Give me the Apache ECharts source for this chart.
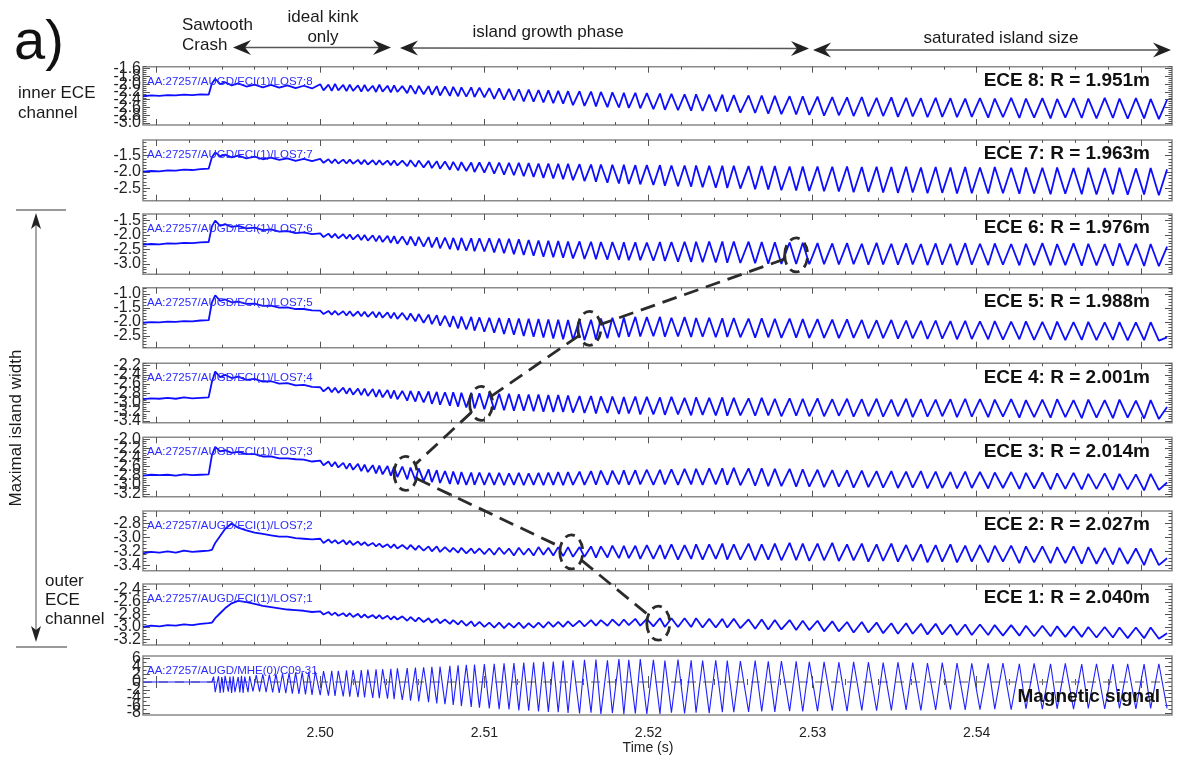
<!DOCTYPE html>
<html><head><meta charset="utf-8">
<script src="https://cdn.jsdelivr.net/npm/echarts@6/dist/echarts.min.js"></script>
<style>html,body{margin:0;padding:0;background:#fff}#c{width:1178px;height:760px}</style>
</head><body><div id="c"></div>
<script>
// ---------------- DATA ----------------
const tEarly = [2.4892,2.4897,2.4902,2.4907,2.4912,2.4917,2.4922,2.4927,2.4932,2.4934,2.4936,2.4939,2.4942,2.4946,2.4950,2.4955,2.4960,2.4965,2.4970,2.4975,2.4980,2.4985,2.4990,2.4995];
const tOsc = [
 2.5000,2.5002,2.5005,2.5007,2.5009,2.5011,2.5014,2.5016,2.5018,2.5020,2.5023,2.5025,2.5027,2.5029,2.5032,2.5034,2.5036,2.5038,2.5041,2.5043,2.5045,2.5047,2.5050,
 2.5053,2.5055,2.5058,2.5060,2.5063,2.5066,2.5068,2.5071,2.5073,2.5076,2.5079,2.5081,2.5084,2.5086,2.5089,2.5092,2.5094,2.5097,2.5100,
 2.5103,2.5106,2.5109,2.5112,2.5115,2.5118,2.5121,2.5124,2.5127,2.5130,2.5133,2.5136,2.5139,2.5142,2.5145,2.5148,2.5151,
 2.5154,2.5158,2.5161,2.5165,2.5168,2.5171,2.5175,2.5178,2.5182,2.5185,2.5188,2.5192,2.5195,2.5199,
 2.5203,2.5207,2.5210,2.5214,2.5218,2.5222,2.5226,2.5229,2.5233,2.5237,2.5241,2.5245,2.5248,
 2.5252,2.5256,2.5261,2.5265,2.5269,2.5273,2.5277,2.5281,2.5286,2.5290,2.5294,2.5298,
 2.5303,2.5307,2.5312,2.5316,2.5321,2.5325,2.5330,2.5334,2.5339,2.5343,2.5348,2.5352,2.5357,2.5361,2.5366,2.5370,2.5375,2.5379,2.5384,2.5388,2.5393,2.5397,
 2.5402,2.5407,2.5411,2.5416,2.5421,2.5426,2.5430,2.5435,2.5440,2.5445,2.5449,2.5454,2.5459,2.5464,2.5468,2.5473,2.5478,2.5483,2.5487,2.5492,2.5497,2.5502,2.5506,2.5511,2.5516];

const ece8Early = [-2.31,-2.29,-2.30,-2.28,-2.29,-2.27,-2.28,-2.26,-2.27,-1.98,-1.86,-2.00,-1.95,-2.03,-1.98,-2.06,-2.01,-2.08,-2.02,-2.09,-2.03,-2.10,-2.04,-2.11];
const ece8 = [
 -2.00,-2.16,-2.01,-2.17,-1.99,-2.16,-2.02,-2.18,-2.01,-2.17,-2.03,-2.19,-2.02,-2.18,-2.04,-2.20,-2.01,-2.19,-2.04,-2.21,-2.03,-2.20,-2.05,
 -2.23,-2.03,-2.25,-2.04,-2.26,-2.05,-2.27,-2.05,-2.29,-2.06,-2.30,-2.07,-2.31,-2.08,-2.32,-2.08,-2.33,-2.09,-2.34,
 -2.10,-2.38,-2.11,-2.40,-2.12,-2.42,-2.13,-2.44,-2.14,-2.45,-2.15,-2.47,-2.16,-2.49,-2.17,-2.50,-2.18,
 -2.54,-2.18,-2.56,-2.19,-2.57,-2.20,-2.59,-2.21,-2.60,-2.22,-2.61,-2.22,-2.62,-2.23,
 -2.64,-2.24,-2.66,-2.25,-2.67,-2.26,-2.68,-2.26,-2.69,-2.27,-2.70,-2.27,-2.71,
 -2.28,-2.73,-2.29,-2.74,-2.29,-2.76,-2.30,-2.77,-2.31,-2.78,-2.31,-2.79,
 -2.32,-2.81,-2.33,-2.80,-2.34,-2.82,-2.33,-2.83,-2.35,-2.82,-2.34,-2.84,-2.35,-2.83,-2.36,-2.85,-2.35,-2.84,-2.36,-2.85,-2.37,-2.84,
 -2.36,-2.86,-2.37,-2.85,-2.35,-2.87,-2.37,-2.86,-2.36,-2.88,-2.38,-2.86,-2.36,-2.87,-2.37,-2.88,-2.35,-2.87,-2.37,-2.89,-2.36,-2.88,-2.38,-2.90,-2.40];

const ece7Early = [-1.99,-1.97,-1.98,-1.95,-1.96,-1.93,-1.94,-1.91,-1.90,-1.55,-1.40,-1.52,-1.47,-1.55,-1.50,-1.58,-1.53,-1.61,-1.56,-1.63,-1.58,-1.66,-1.60,-1.67];
const ece7 = [
 -1.60,-1.72,-1.61,-1.73,-1.61,-1.74,-1.62,-1.74,-1.62,-1.75,-1.63,-1.76,-1.63,-1.77,-1.64,-1.78,-1.64,-1.78,-1.65,-1.79,-1.65,-1.80,-1.65,
 -1.82,-1.64,-1.84,-1.65,-1.86,-1.66,-1.88,-1.67,-1.90,-1.68,-1.93,-1.69,-1.95,-1.70,-1.97,-1.71,-2.00,-1.71,-2.02,
 -1.70,-2.05,-1.71,-2.08,-1.72,-2.10,-1.72,-2.13,-1.73,-2.15,-1.74,-2.18,-1.74,-2.20,-1.75,-2.22,-1.75,
 -2.25,-1.76,-2.28,-1.77,-2.30,-1.77,-2.33,-1.78,-2.35,-1.78,-2.37,-1.79,-2.38,-1.79,
 -2.40,-1.79,-2.42,-1.80,-2.44,-1.80,-2.45,-1.80,-2.47,-1.81,-2.48,-1.81,-2.49,
 -1.81,-2.51,-1.82,-2.53,-1.82,-2.54,-1.82,-2.56,-1.83,-2.57,-1.83,-2.58,
 -1.83,-2.59,-1.84,-2.60,-1.83,-2.62,-1.85,-2.61,-1.84,-2.63,-1.85,-2.64,-1.84,-2.63,-1.86,-2.65,-1.85,-2.64,-1.86,-2.66,-1.85,-2.65,
 -1.86,-2.66,-1.85,-2.65,-1.87,-2.67,-1.86,-2.66,-1.87,-2.68,-1.86,-2.67,-1.88,-2.68,-1.87,-2.69,-1.88,-2.68,-1.87,-2.70,-1.89,-2.69,-1.88,-2.71,-1.92];

const ece6Early = [-2.33,-2.31,-2.32,-2.29,-2.30,-2.27,-2.28,-2.25,-2.24,-1.70,-1.50,-1.68,-1.62,-1.72,-1.68,-1.77,-1.74,-1.83,-1.80,-1.88,-1.86,-1.93,-1.91,-1.97];
const ece6 = [
 -1.94,-2.07,-1.95,-2.09,-1.96,-2.11,-1.97,-2.13,-1.98,-2.15,-1.99,-2.17,-2.00,-2.19,-2.01,-2.22,-2.02,-2.24,-2.03,-2.27,-2.04,-2.30,-2.05,
 -2.34,-2.05,-2.37,-2.06,-2.40,-2.07,-2.43,-2.08,-2.46,-2.09,-2.49,-2.10,-2.52,-2.10,-2.54,-2.11,-2.56,-2.11,-2.57,
 -2.11,-2.60,-2.12,-2.63,-2.13,-2.66,-2.15,-2.69,-2.17,-2.72,-2.19,-2.75,-2.20,-2.77,-2.21,-2.79,-2.22,
 -2.81,-2.22,-2.83,-2.23,-2.84,-2.24,-2.85,-2.24,-2.86,-2.25,-2.87,-2.25,-2.87,-2.26,
 -2.89,-2.24,-2.90,-2.24,-2.92,-2.23,-2.93,-2.23,-2.94,-2.22,-2.95,-2.22,-2.96,
 -2.22,-2.97,-2.23,-2.98,-2.24,-2.99,-2.25,-3.00,-2.26,-3.00,-2.27,-3.01,
 -2.28,-3.01,-2.29,-3.02,-2.28,-3.01,-2.30,-3.03,-2.27,-3.02,-2.30,-3.03,-2.29,-3.02,-2.31,-3.04,-2.29,-3.03,-2.30,-3.04,-2.28,-3.03,
 -2.30,-3.04,-2.29,-3.03,-2.31,-3.05,-2.30,-3.04,-2.28,-3.05,-2.31,-3.04,-2.29,-3.06,-2.30,-3.05,-2.31,-3.06,-2.29,-3.05,-2.30,-3.07,-2.31,-3.08,-2.40];

const ece5Early = [-2.03,-2.01,-2.02,-1.99,-2.00,-1.97,-1.98,-1.95,-1.94,-1.30,-1.05,-1.25,-1.20,-1.30,-1.28,-1.36,-1.35,-1.43,-1.42,-1.49,-1.48,-1.54,-1.54,-1.59];
const ece5 = [
 -1.60,-1.72,-1.61,-1.74,-1.61,-1.75,-1.62,-1.77,-1.62,-1.79,-1.63,-1.80,-1.64,-1.82,-1.64,-1.84,-1.65,-1.85,-1.66,-1.87,-1.67,-1.89,-1.68,
 -1.93,-1.70,-1.98,-1.72,-2.03,-1.74,-2.08,-1.76,-2.13,-1.78,-2.18,-1.79,-2.23,-1.81,-2.27,-1.82,-2.31,-1.84,-2.35,
 -1.85,-2.39,-1.86,-2.43,-1.87,-2.46,-1.88,-2.50,-1.89,-2.53,-1.90,-2.56,-1.91,-2.59,-1.92,-2.62,-1.93,
 -2.64,-1.93,-2.65,-1.92,-2.63,-1.88,-2.58,-1.85,-2.55,-1.84,-2.53,-1.82,-2.52,-1.83,
 -2.51,-1.82,-2.53,-1.85,-2.52,-1.83,-2.54,-1.86,-2.53,-1.85,-2.55,-1.87,-2.54,
 -1.86,-2.55,-1.88,-2.56,-1.87,-2.55,-1.89,-2.57,-1.88,-2.56,-1.90,-2.57,
 -1.90,-2.57,-1.92,-2.58,-1.91,-2.57,-1.93,-2.59,-1.94,-2.58,-1.93,-2.60,-1.95,-2.59,-1.96,-2.61,-1.95,-2.60,-1.97,-2.62,-1.96,-2.61,
 -1.98,-2.62,-1.97,-2.63,-1.99,-2.62,-1.98,-2.64,-2.00,-2.63,-1.99,-2.65,-2.01,-2.64,-2.00,-2.65,-2.02,-2.64,-2.01,-2.66,-2.02,-2.65,-2.01,-2.67,-2.55];

const ece4Early = [-2.93,-2.91,-2.92,-2.90,-2.92,-2.89,-2.91,-2.90,-2.89,-2.55,-2.33,-2.45,-2.40,-2.47,-2.44,-2.51,-2.49,-2.55,-2.54,-2.59,-2.58,-2.63,-2.62,-2.66];
const ece4 = [
 -2.67,-2.76,-2.67,-2.78,-2.68,-2.79,-2.68,-2.81,-2.69,-2.83,-2.70,-2.84,-2.70,-2.86,-2.71,-2.88,-2.72,-2.89,-2.73,-2.91,-2.74,-2.93,-2.75,
 -2.96,-2.75,-2.98,-2.76,-3.00,-2.76,-3.03,-2.77,-3.05,-2.78,-3.07,-2.78,-3.09,-2.79,-3.11,-2.79,-3.13,-2.80,-3.15,
 -2.80,-3.16,-2.81,-3.17,-2.81,-3.18,-2.82,-3.18,-2.83,-3.19,-2.83,-3.20,-2.84,-3.21,-2.84,-3.21,-2.85,
 -3.22,-2.86,-3.23,-2.86,-3.24,-2.87,-3.23,-2.87,-3.25,-2.88,-3.24,-2.87,-3.26,-2.88,
 -3.26,-2.89,-3.27,-2.88,-3.26,-2.90,-3.28,-2.89,-3.27,-2.90,-3.28,-2.89,-3.29,
 -2.90,-3.28,-2.91,-3.29,-2.90,-3.28,-2.92,-3.30,-2.91,-3.29,-2.92,-3.30,
 -2.91,-3.30,-2.93,-3.29,-2.92,-3.31,-2.93,-3.30,-2.92,-3.31,-2.94,-3.30,-2.92,-3.32,-2.93,-3.31,-2.94,-3.30,-2.93,-3.32,-2.92,-3.31,
 -2.93,-3.32,-2.94,-3.31,-2.93,-3.33,-2.95,-3.32,-2.94,-3.33,-2.93,-3.32,-2.95,-3.34,-2.94,-3.33,-2.95,-3.34,-2.94,-3.33,-2.96,-3.35,-2.95,-3.36,-3.10];

const ece3Early = [-2.80,-2.78,-2.79,-2.78,-2.80,-2.77,-2.79,-2.78,-2.77,-2.35,-2.17,-2.27,-2.24,-2.30,-2.28,-2.33,-2.33,-2.38,-2.38,-2.42,-2.42,-2.44,-2.45,-2.49];
const ece3 = [
 -2.47,-2.57,-2.49,-2.60,-2.50,-2.62,-2.52,-2.65,-2.53,-2.67,-2.54,-2.70,-2.56,-2.72,-2.57,-2.75,-2.58,-2.77,-2.59,-2.80,-2.60,-2.83,-2.60,
 -2.88,-2.62,-2.90,-2.64,-2.92,-2.66,-2.94,-2.68,-2.96,-2.70,-2.98,-2.71,-2.99,-2.72,-3.00,-2.73,-3.00,-2.73,-3.00,
 -2.74,-3.00,-2.74,-3.01,-2.75,-3.00,-2.74,-3.01,-2.75,-3.00,-2.74,-3.01,-2.73,-3.00,-2.72,-3.01,-2.72,
 -3.00,-2.71,-3.00,-2.70,-3.00,-2.69,-3.00,-2.69,-2.99,-2.68,-3.00,-2.68,-2.99,-2.67,
 -3.00,-2.67,-2.99,-2.66,-3.00,-2.65,-2.99,-2.65,-3.00,-2.64,-2.99,-2.64,-3.00,
 -2.63,-3.01,-2.64,-3.02,-2.64,-3.03,-2.65,-3.03,-2.65,-3.04,-2.66,-3.04,
 -2.67,-3.05,-2.68,-3.04,-2.68,-3.06,-2.69,-3.05,-2.70,-3.06,-2.70,-3.07,-2.71,-3.06,-2.70,-3.08,-2.71,-3.07,-2.72,-3.08,-2.71,-3.07,
 -2.72,-3.08,-2.73,-3.07,-2.72,-3.09,-2.74,-3.08,-2.73,-3.10,-2.75,-3.09,-2.74,-3.10,-2.76,-3.09,-2.75,-3.11,-2.76,-3.10,-2.77,-3.12,-2.76,-3.11,-2.95];

const ece2Early = [-3.23,-3.21,-3.22,-3.20,-3.22,-3.19,-3.21,-3.20,-3.19,-3.18,-3.08,-2.98,-2.88,-2.80,-2.86,-2.90,-2.93,-2.95,-2.97,-2.99,-2.99,-3.01,-3.02,-3.03];
const ece2 = [
 -3.02,-3.08,-3.03,-3.08,-3.04,-3.09,-3.04,-3.10,-3.05,-3.11,-3.06,-3.11,-3.07,-3.12,-3.08,-3.13,-3.09,-3.14,-3.10,-3.15,-3.10,-3.16,-3.11,
 -3.17,-3.11,-3.18,-3.12,-3.19,-3.13,-3.20,-3.13,-3.21,-3.14,-3.21,-3.15,-3.22,-3.15,-3.23,-3.16,-3.23,-3.16,-3.24,
 -3.16,-3.25,-3.15,-3.24,-3.16,-3.26,-3.15,-3.25,-3.16,-3.26,-3.14,-3.25,-3.15,-3.26,-3.14,-3.27,-3.14,
 -3.28,-3.14,-3.28,-3.13,-3.29,-3.13,-3.29,-3.12,-3.30,-3.12,-3.30,-3.12,-3.31,-3.11,
 -3.31,-3.11,-3.31,-3.10,-3.32,-3.11,-3.31,-3.10,-3.32,-3.10,-3.31,-3.09,-3.32,
 -3.10,-3.32,-3.09,-3.33,-3.10,-3.32,-3.09,-3.33,-3.08,-3.33,-3.09,-3.34,
 -3.09,-3.33,-3.08,-3.34,-3.10,-3.33,-3.09,-3.35,-3.10,-3.34,-3.09,-3.35,-3.11,-3.34,-3.10,-3.36,-3.11,-3.35,-3.10,-3.36,-3.12,-3.35,
 -3.11,-3.36,-3.12,-3.35,-3.12,-3.37,-3.13,-3.36,-3.13,-3.37,-3.14,-3.37,-3.13,-3.38,-3.14,-3.38,-3.15,-3.39,-3.15,-3.38,-3.16,-3.40,-3.16,-3.40,-3.30];

const ece1Early = [-3.00,-2.98,-2.99,-2.97,-2.98,-2.96,-2.97,-2.95,-2.94,-2.93,-2.86,-2.78,-2.70,-2.62,-2.58,-2.60,-2.63,-2.66,-2.68,-2.70,-2.72,-2.73,-2.74,-2.76];
const ece1 = [
 -2.75,-2.80,-2.76,-2.81,-2.77,-2.82,-2.78,-2.83,-2.78,-2.84,-2.79,-2.85,-2.80,-2.85,-2.81,-2.86,-2.81,-2.87,-2.82,-2.88,-2.83,-2.88,-2.83,
 -2.90,-2.84,-2.91,-2.85,-2.92,-2.86,-2.93,-2.87,-2.94,-2.88,-2.95,-2.89,-2.96,-2.90,-2.98,-2.91,-2.99,-2.92,-3.00,
 -2.93,-3.01,-2.93,-3.02,-2.94,-3.01,-2.93,-3.02,-2.94,-3.01,-2.93,-3.01,-2.92,-3.00,-2.92,-3.00,-2.91,
 -2.99,-2.90,-2.99,-2.89,-2.98,-2.89,-2.98,-2.88,-2.98,-2.88,-2.97,-2.87,-2.98,-2.87,
 -2.99,-2.86,-3.00,-2.86,-3.00,-2.86,-3.00,-2.86,-3.01,-2.87,-3.01,-2.87,-3.01,
 -2.87,-3.02,-2.88,-3.03,-2.88,-3.04,-2.89,-3.04,-2.89,-3.05,-2.90,-3.05,
 -2.90,-3.07,-2.91,-3.07,-2.92,-3.09,-2.92,-3.09,-2.93,-3.10,-2.94,-3.11,-2.94,-3.11,-2.95,-3.12,-2.95,-3.12,-2.96,-3.13,-2.96,-3.13,
 -2.96,-3.13,-2.97,-3.14,-2.97,-3.14,-2.98,-3.15,-2.98,-3.15,-2.99,-3.16,-2.99,-3.16,-3.00,-3.17,-3.00,-3.17,-3.01,-3.18,-3.01,-3.18,-3.01,-3.19,-3.10];

const tMagEarly = [2.4892,2.4934,2.4935,2.4936,2.4938,2.4939,2.4940,2.4941,2.4942,2.4944,2.4945,2.4946,2.4947,2.4948,2.4950,2.4951,2.4952,2.4953,2.4954,2.4956,2.4957,2.4959,2.4961,2.4963,2.4965,2.4967,2.4969,2.4971,2.4973,2.4975,2.4977,2.4979,2.4981,2.4983,2.4985,2.4987,2.4989,2.4991,2.4993,2.4995,2.4997];
const magEarly = [0,0,1.4,-2.6,1.5,-2.8,1.3,-2.7,1.6,-2.5,1.4,-2.8,1.5,-2.6,1.3,-2.7,1.6,-2.8,1.4,-2.6,1.5,-2.4,1.8,-2.5,2.0,-2.6,1.9,-2.7,2.1,-2.8,2.2,-2.9,2.3,-3.0,2.4,-3.1,2.5,-3.2,2.6,-3.3,2.7];
const mag = [
 -3.4,2.8,-3.5,2.9,-3.6,2.9,-3.7,3.0,-3.8,3.1,-3.9,3.1,-4.0,3.2,-4.1,3.3,-4.2,3.3,-4.3,3.4,-4.4,3.5,-4.6,
 3.6,-4.8,3.7,-5.0,3.8,-5.2,3.9,-5.5,4.0,-5.7,4.2,-5.9,4.3,-6.2,4.4,-6.4,4.5,-6.6,4.6,
 -6.8,4.7,-7.0,4.8,-7.1,4.9,-7.3,5.0,-7.4,5.1,-7.6,5.2,-7.7,5.3,-7.8,5.5,-8.0,
 5.6,-8.1,5.7,-7.9,5.8,-8.2,5.6,-8.0,5.9,-8.3,5.7,-8.1,5.9,-8.2,
 5.7,-8.2,5.5,-7.9,5.8,-8.1,5.6,-7.9,5.5,-8.0,5.6,-7.8,5.5,
 -7.8,5.4,-7.7,5.5,-7.6,5.3,-7.7,5.4,-7.5,5.3,-7.6,5.2,
 -7.5,5.2,-7.4,5.1,-7.5,5.2,-7.3,5.1,-7.4,5.0,-7.3,5.1,-7.2,5.0,-7.3,4.9,-7.2,5.0,-7.1,4.9,-7.2,4.8,
 -7.1,4.8,-7.0,4.9,-7.1,4.7,-6.9,4.8,-7.0,4.7,-6.9,4.8,-7.0,4.6,-6.8,4.7,-6.9,4.6,-6.8,4.7,-6.9,4.6,-6.8,4.7,-6.8];

const channelLabels = ['ECE 8: R = 1.951m','ECE 7: R = 1.963m','ECE 6: R = 1.976m','ECE 5: R = 1.988m','ECE 4: R = 2.001m','ECE 3: R = 2.014m','ECE 2: R = 2.027m','ECE 1: R = 2.040m','Magnetic signal'];
const signalIds = ['AA:27257/AUGD/ECI(1)/LOS7;8','AA:27257/AUGD/ECI(1)/LOS7;7','AA:27257/AUGD/ECI(1)/LOS7;6','AA:27257/AUGD/ECI(1)/LOS7;5','AA:27257/AUGD/ECI(1)/LOS7;4','AA:27257/AUGD/ECI(1)/LOS7;3','AA:27257/AUGD/ECI(1)/LOS7;2','AA:27257/AUGD/ECI(1)/LOS7;1','AA:27257/AUGD/MHE(0)/C09-31'];
const yRanges = [[-3.05,-1.55],[-2.88,-1.02],[-3.36,-1.27],[-2.92,-0.78],[-3.44,-2.15],[-3.26,-1.96],[-3.48,-2.62],[-3.29,-2.31],[-8.5,6.7]];
const yTickLabels = [
 [-1.6,-1.8,-2.0,-2.2,-2.4,-2.6,-2.8,-3.0],
 [-1.5,-2.0,-2.5],
 [-1.5,-2.0,-2.5,-3.0],
 [-1.0,-1.5,-2.0,-2.5],
 [-2.2,-2.4,-2.6,-2.8,-3.0,-3.2,-3.4],
 [-2.0,-2.2,-2.4,-2.6,-2.8,-3.0,-3.2],
 [-2.8,-3.0,-3.2,-3.4],
 [-2.4,-2.6,-2.8,-3.0,-3.2],
 [6,4,2,0,-2,-4,-6,-8]];
const xTickLabels = [2.50,2.51,2.52,2.53,2.54];
// circled phase-inversion points (panel index, time, value)
const ringPanel = [2,3,4,5,6,7];
const ringT = [2.5290,2.5164,2.5098,2.5052,2.5153,2.5206];
const ringV = [-2.69,-2.23,-3.02,-2.75,-3.21,-2.94];

// ---------------- LAYOUT ----------------
const FONT = "'Liberation Sans', Arial, sans-serif";
const X0 = 2.4892, X1 = 2.5519;
const panelTop = [66.7,140,214,287.7,363.3,437.3,511,584,656];
const panelH = [58.3,60.7,60.3,60,59.4,59.4,59.7,61,59];
const minorStepY = [0.05,0.1,0.1,0.1,0.05,0.05,0.05,0.05,1];
const GL = 143, GR = 1172;

function steps(a, b, s) {
  const out = []; const n = Math.round((b - a) / s);
  for (let i = 0; i <= n; i++) out.push(+(a + i * s).toFixed(5));
  return out;
}
const xMajor = steps(2.49, 2.55, 0.01), xMinor = steps(2.49, 2.55, 0.002);

const earlyT = [tEarly,tEarly,tEarly,tEarly,tEarly,tEarly,tEarly,tEarly,tMagEarly];
const earlyV = [ece8Early,ece7Early,ece6Early,ece5Early,ece4Early,ece3Early,ece2Early,ece1Early,magEarly];
const oscV = [ece8,ece7,ece6,ece5,ece4,ece3,ece2,ece1,mag];

const grid = [], xAxis = [], yAxis = [], series = [];
const tickStyle = {color:'#555', width:1};
for (let g = 0; g < 9; g++) {
  grid.push({left:GL, width:GR-GL, top:panelTop[g], height:panelH[g], show:true,
    borderColor:'#8a8a8a', borderWidth:1.6, backgroundColor:'#fff', containLabel:false, outerBoundsMode:'none'});
  const last = g === 8;
  const xb = {type:'value', gridIndex:g, min:X0, max:X1, axisLine:{show:false}, splitLine:{show:false}, axisLabel:{show:false}};
  xAxis.push(Object.assign({}, xb, {position:'bottom',
    axisTick:{show:true, inside:true, length:6, lineStyle:tickStyle, customValues:xMajor},
    axisLabel: last ? {show:true, customValues:xTickLabels, formatter:v=>v.toFixed(2), fontSize:14, color:'#222', fontFamily:FONT, margin:11, showMinLabel:true, showMaxLabel:true, hideOverlap:false} : {show:false}}));
  xAxis.push(Object.assign({}, xb, {position:'bottom', axisTick:{show:true, inside:true, length:3, lineStyle:tickStyle, customValues:xMinor}}));
  xAxis.push(Object.assign({}, xb, {position:'top', axisTick:{show:true, inside:true, length:6, lineStyle:tickStyle, customValues:xMajor}}));
  xAxis.push(Object.assign({}, xb, {position:'top', axisTick:{show:true, inside:true, length:3, lineStyle:tickStyle, customValues:xMinor}}));

  const [lo, hi] = yRanges[g];
  const st = minorStepY[g];
  const yMinor = steps(Math.ceil(lo/st)*st, Math.floor(hi/st)*st, st);
  const yb = {type:'value', gridIndex:g, min:lo, max:hi, axisLine:{show:false}, splitLine:{show:false}, axisLabel:{show:false}};
  yAxis.push(Object.assign({}, yb, {position:'left', axisTick:{show:true, inside:true, length:7, lineStyle:tickStyle, customValues:yTickLabels[g]}}));
  yAxis.push(Object.assign({}, yb, {position:'left', axisTick:{show:true, inside:true, length:3.5, lineStyle:tickStyle, customValues:yMinor}}));
  yAxis.push(Object.assign({}, yb, {position:'right', axisTick:{show:true, inside:true, length:7, lineStyle:tickStyle, customValues:yTickLabels[g]}}));
  yAxis.push(Object.assign({}, yb, {position:'right', axisTick:{show:true, inside:true, length:3.5, lineStyle:tickStyle, customValues:yMinor}}));

  const data = [];
  earlyT[g].forEach((t, i) => data.push([t, earlyV[g][i]]));
  const n = Math.min(tOsc.length, oscV[g].length);
  for (let i = 0; i < n; i++) data.push([tOsc[i], oscV[g][i]]);
  const s = {type:'line', xAxisIndex:4*g, yAxisIndex:4*g, data, symbol:'none', silent:true, animation:false,
    lineStyle:{color: last ? '#1f1fff' : '#0d0dff', width: last ? 1.1 : 1.8}, z:3};
  if (last) {
    s.markLine = {silent:true, symbol:'none', label:{show:false}, data:[{yAxis:0}],
      lineStyle:{color:'#8a8a8a', type:[9,7], width:1.6}, z:2};
  }
  series.push(s);
}

const chart = echarts.init(document.getElementById('c'), null, {renderer:'canvas'});
chart.setOption({animation:false, backgroundColor:'#fff', grid, xAxis, yAxis, series});

// ---------------- ANNOTATIONS ----------------
const G = [];
function txt(x, y, text, o) {
  o = o || {};
  G.push({type:'text', x, y, rotation:o.rot||0, z:50, silent:true, style:{text, fontSize:o.size||17, fontFamily:FONT,
    fontWeight:o.weight||'normal', fill:o.color||'#1a1a1a', textAlign:o.align||'left', align:o.align||'left',
    textVerticalAlign:'middle', verticalAlign:'middle', lineHeight:o.lh||20}});
}
function head(x, y, dir, L, W, N) {
  L = L||18; W = W||7.5; N = N||6;
  let p;
  if (dir==='r') p=[[x,y],[x-L,y-W],[x-L+N,y],[x-L,y+W]];
  if (dir==='l') p=[[x,y],[x+L,y-W],[x+L-N,y],[x+L,y+W]];
  if (dir==='u') p=[[x,y],[x-W,y+L],[x,y+L-N],[x+W,y+L]];
  if (dir==='d') p=[[x,y],[x-W,y-L],[x,y-L+N],[x+W,y-L]];
  G.push({type:'polygon', z:60, silent:true, shape:{points:p}, style:{fill:'#222'}});
}
function seg(x1,y1,x2,y2,color,w,dash){
  G.push({type:'line', z:55, silent:true, shape:{x1,y1,x2,y2}, style:{stroke:color, lineWidth:w, lineDash:dash||null}});
}
// y tick labels (placed through each panel's own y axis so that crowded labels all stay visible)
for (let g = 0; g < 9; g++) {
  yTickLabels[g].forEach(v => {
    const py = chart.convertToPixel({yAxisIndex:4*g}, v);
    txt(141, py, g === 8 ? String(v) : v.toFixed(1), {size:16, align:'right', color:'#222', lh:16});
  });
}
// panel labels
for (let g = 0; g < 9; g++) {
  txt(147, panelTop[g]+15, signalIds[g], {size:11.5, color:'#2b2bff'});
  if (g < 8) txt(1150, panelTop[g]+14, channelLabels[g], {size:19, weight:'bold', align:'right', color:'#111'});
  else txt(1160, panelTop[g]+41, channelLabels[g], {size:19, weight:'bold', align:'right', color:'#111'});
}
// axis title
txt(648, 748, 'Time (s)', {size:14, align:'center', color:'#222'});
// top phase annotations
txt(14, 44, 'a)', {size:56, color:'#111', lh:60});
txt(182, 35, 'Sawtooth\nCrash', {size:17, lh:20});
txt(323, 27, 'ideal kink\nonly', {size:17, align:'center', lh:20});
txt(548, 32, 'island growth phase', {size:17, align:'center'});
txt(1001, 38, 'saturated island size', {size:17, align:'center'});
seg(238,47.5,386,47.5,'#555',1.5); head(233,47.5,'l'); head(391,47.5,'r');
seg(405,48,804,48.5,'#555',1.5); head(400,48,'l'); head(809,48.5,'r');
seg(818,50,1166,50,'#555',1.5); head(813,50,'l'); head(1171,50,'r');
// left annotations
txt(18, 103, 'inner ECE\nchannel', {size:17, lh:20});
txt(45, 600, 'outer\nECE\nchannel', {size:17, lh:19});
txt(16, 428, 'Maximal island width', {size:17, align:'center', rot:Math.PI/2});
seg(16,210,66,210,'#777',1.5); seg(16,647,67,647,'#777',1.5);
seg(36,222,36,634,'#888',1.5); head(36,213,'u',16,5,4); head(36,642,'d',16,5,4);
// circled points + dashed connector
const RX = 11.5, RY = 17;
const centers = ringPanel.map((p, i) => chart.convertToPixel({xAxisIndex:4*p, yAxisIndex:4*p}, [ringT[i], ringV[i]]));
centers.forEach(c => G.push({type:'ellipse', z:70, silent:true, shape:{cx:c[0], cy:c[1], rx:RX, ry:RY},
  style:{fill:'none', stroke:'#2b2b2b', lineWidth:2.8, lineDash:[10,6]}}));
function edge(dx, dy) { return 1/Math.sqrt((dx/RX)*(dx/RX)+(dy/RY)*(dy/RY)); }
for (let i = 0; i < centers.length-1; i++) {
  const a = centers[i], b = centers[i+1];
  const L = Math.hypot(b[0]-a[0], b[1]-a[1]);
  const ux = (b[0]-a[0])/L, uy = (b[1]-a[1])/L;
  const r = edge(ux, uy);
  seg(a[0]+ux*r, a[1]+uy*r, b[0]-ux*r, b[1]-uy*r, '#2b2b2b', 2.8, [15,8]);
}
chart.setOption({graphic: G});
</script></body></html>
